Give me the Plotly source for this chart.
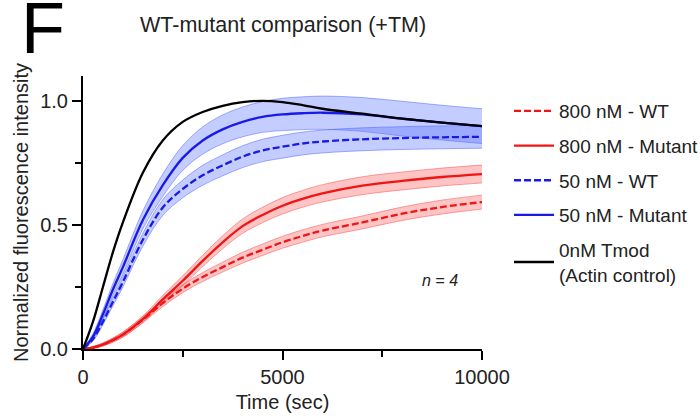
import numpy as np
import plotly.graph_objects as go

# Time points (sec)
time_s = [0, 250, 500, 750, 1000, 1500, 2000, 2500, 3000, 3500, 4000,
          4500, 5000, 5500, 6000, 7000, 8000, 9000, 10000]

# Mean normalized fluorescence for each condition
actin_control = [0, 0.11, 0.25, 0.39, 0.51, 0.71, 0.84, 0.915, 0.955, 0.98, 0.995,
                 1.0, 0.995, 0.983, 0.968, 0.948, 0.928, 0.912, 0.898]
mut_50 = [0, 0.05, 0.14, 0.24, 0.33, 0.52, 0.66, 0.77, 0.84, 0.885, 0.915,
          0.935, 0.945, 0.95, 0.952, 0.945, 0.928, 0.912, 0.898]
wt_50 = [0, 0.04, 0.11, 0.19, 0.27, 0.44, 0.57, 0.645, 0.70, 0.74, 0.775,
         0.80, 0.815, 0.828, 0.836, 0.845, 0.85, 0.853, 0.855]
mut_800 = [0, 0.006, 0.018, 0.036, 0.058, 0.12, 0.2, 0.275, 0.355, 0.43, 0.495,
           0.54, 0.577, 0.605, 0.627, 0.658, 0.677, 0.693, 0.705]
wt_800 = [0, 0.006, 0.018, 0.036, 0.058, 0.118, 0.185, 0.243, 0.29, 0.33, 0.368,
          0.40, 0.43, 0.455, 0.477, 0.51, 0.545, 0.572, 0.592]

# Standard deviations (n = 4)
mut_50_sd = [0, 0.012, 0.018, 0.024, 0.03, 0.036, 0.045, 0.05, 0.055, 0.058, 0.06,
             0.062, 0.065, 0.066, 0.067, 0.068, 0.07, 0.07, 0.07]
wt_50_sd = [0, 0.008, 0.012, 0.016, 0.02, 0.026, 0.032, 0.036, 0.04, 0.042, 0.044,
            0.045, 0.046, 0.046, 0.046, 0.046, 0.046, 0.046, 0.046]
mut_800_sd = [0, 0.004, 0.006, 0.008, 0.01, 0.013, 0.016, 0.02, 0.023, 0.026, 0.029,
              0.031, 0.033, 0.034, 0.035, 0.036, 0.036, 0.036, 0.036]
wt_800_sd = [0, 0.004, 0.006, 0.008, 0.01, 0.012, 0.014, 0.016, 0.018, 0.02, 0.022,
             0.023, 0.024, 0.025, 0.025, 0.026, 0.027, 0.028, 0.028]

RED = "#f01414"
BLUE = "#1a1ae6"
RED_FILL = "rgba(255,70,70,0.32)"
BLUE_FILL = "rgba(70,100,255,0.32)"
RED_EDGE = "rgba(245,90,90,0.55)"
BLUE_EDGE = "rgba(90,110,250,0.55)"
FONT = "Arial, Liberation Sans, sans-serif"

fig = go.Figure()


def add_band(mean, sd, fill, edge):
    m = np.array(mean)
    s = np.array(sd)
    fig.add_trace(go.Scatter(x=time_s, y=m + s, mode="lines",
                             line=dict(color=edge, width=1, shape="spline"),
                             showlegend=False, hoverinfo="skip"))
    fig.add_trace(go.Scatter(x=time_s, y=m - s, mode="lines", fill="tonexty",
                             fillcolor=fill,
                             line=dict(color=edge, width=1, shape="spline"),
                             showlegend=False, hoverinfo="skip"))


add_band(wt_800, wt_800_sd, RED_FILL, RED_EDGE)
add_band(mut_800, mut_800_sd, RED_FILL, RED_EDGE)
add_band(wt_50, wt_50_sd, BLUE_FILL, BLUE_EDGE)
add_band(mut_50, mut_50_sd, BLUE_FILL, BLUE_EDGE)

series = [
    ("800 nM - WT", wt_800, RED, "7px,3px"),
    ("800 nM - Mutant", mut_800, RED, "solid"),
    ("50 nM - WT", wt_50, BLUE, "7px,3px"),
    ("50 nM - Mutant", mut_50, BLUE, "solid"),
    ("0nM Tmod<br>(Actin control)", actin_control, "black", "solid"),
]
for i, (name, y, color, dash) in enumerate(series):
    fig.add_trace(go.Scatter(x=time_s, y=y, mode="lines", name=name,
                             legendgroup=f"g{i}",
                             line=dict(color=color, width=2.3, dash=dash,
                                       shape="spline")))

axis_common = dict(
    showline=True, linecolor="black", linewidth=2,
    ticks="outside", ticklen=9, tickwidth=2, tickcolor="black",
    showgrid=False, zeroline=False, automargin=False,
    tickfont=dict(family=FONT, size=20, color="#222"),
    title_font=dict(family=FONT, size=20, color="#222"),
)

fig.update_xaxes(range=[0, 10000], tickvals=[0, 5000, 10000],
                 ticktext=["0", "5000", "10000"],
                 minor=dict(dtick=2500, tick0=0, ticks="outside", ticklen=6,
                            tickwidth=2, tickcolor="black"),
                 title_text="Time (sec)", title_standoff=8, **axis_common)
fig.update_yaxes(range=[0, 1.1], tickvals=[0, 0.5, 1.0], tickformat=".1f",
                 minor=dict(dtick=0.25, tick0=0, ticks="outside", ticklen=6,
                            tickwidth=2, tickcolor="black"),
                 title_text="Normalized fluorescence intensity", title_standoff=6,
                 **axis_common)

fig.update_layout(
    width=700, height=419,
    margin=dict(l=83, r=218, t=76, b=70),
    paper_bgcolor="white", plot_bgcolor="white",
    font=dict(family=FONT, color="#222"),
    legend=dict(xref="container", yref="container",
                x=509 / 700, y=1 - 92 / 419, xanchor="left", yanchor="top",
                font=dict(family=FONT, size=19, color="#222"),
                itemwidth=40, tracegroupgap=7, traceorder="grouped",
                bgcolor="rgba(0,0,0,0)"),
    annotations=[
        dict(text="WT-mutant comparison (+TM)", xref="paper", yref="paper",
             x=0.501, y=1.187, xanchor="center", yanchor="middle",
             showarrow=False, font=dict(family=FONT, size=21.5, color="#222")),
        dict(text="F", xref="paper", yref="paper", x=-0.1, y=1.174,
             xanchor="center", yanchor="middle", showarrow=False,
             font=dict(family=FONT, size=72, color="black")),
        dict(text="<i>n = 4</i>", xref="x", yref="y", x=8950, y=0.278,
             xanchor="center", yanchor="middle", showarrow=False,
             font=dict(family=FONT, size=16, color="#222")),
    ],
)

fig.write_html("out.html")
